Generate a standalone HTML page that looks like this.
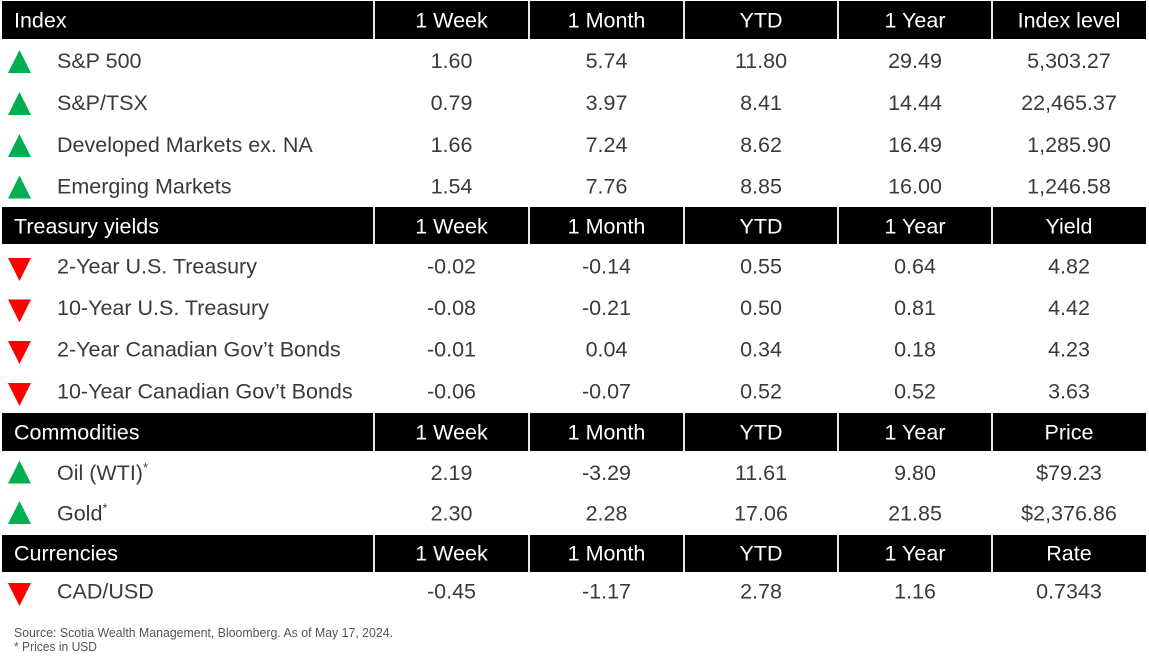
<!DOCTYPE html>
<html>
<head>
<meta charset="utf-8">
<style>
  html,body{margin:0;padding:0;background:#fff;}
  svg{display:block;}
  .h{font-family:"Liberation Sans",sans-serif;font-size:21.5px;fill:#fff;}
  .d{font-family:"Liberation Sans",sans-serif;font-size:21.5px;fill:#3a3a3a;}
  .c{text-anchor:middle;}
  .f{font-family:"Liberation Sans",sans-serif;font-size:12.5px;fill:#555;}
</style>
</head>
<body>
<svg width="1149" height="663" viewBox="0 0 1149 663" xmlns="http://www.w3.org/2000/svg">
  <!-- Header bands -->
  <g fill="#000">
    <rect x="2" y="1" width="1144" height="38"/>
    <rect x="2" y="207" width="1144" height="37"/>
    <rect x="2" y="413" width="1144" height="38"/>
    <rect x="2" y="535" width="1144" height="37"/>
  </g>
  <!-- Header dividers -->
  <g stroke="#e6e6e6" stroke-width="2">
    <line x1="374" y1="1" x2="374" y2="39"/><line x1="529" y1="1" x2="529" y2="39"/><line x1="684" y1="1" x2="684" y2="39"/><line x1="838" y1="1" x2="838" y2="39"/><line x1="992" y1="1" x2="992" y2="39"/>
    <line x1="374" y1="207" x2="374" y2="244"/><line x1="529" y1="207" x2="529" y2="244"/><line x1="684" y1="207" x2="684" y2="244"/><line x1="838" y1="207" x2="838" y2="244"/><line x1="992" y1="207" x2="992" y2="244"/>
    <line x1="374" y1="413" x2="374" y2="451"/><line x1="529" y1="413" x2="529" y2="451"/><line x1="684" y1="413" x2="684" y2="451"/><line x1="838" y1="413" x2="838" y2="451"/><line x1="992" y1="413" x2="992" y2="451"/>
    <line x1="374" y1="535" x2="374" y2="572"/><line x1="529" y1="535" x2="529" y2="572"/><line x1="684" y1="535" x2="684" y2="572"/><line x1="838" y1="535" x2="838" y2="572"/><line x1="992" y1="535" x2="992" y2="572"/>
  </g>

  <!-- Header text -->
  <text class="h" x="14" y="27.5">Index</text>
  <text class="h c" x="451.5" y="27.5">1 Week</text>
  <text class="h c" x="606.5" y="27.5">1 Month</text>
  <text class="h c" x="761" y="27.5">YTD</text>
  <text class="h c" x="915" y="27.5">1 Year</text>
  <text class="h c" x="1069" y="27.5">Index level</text>

  <text class="h" x="14" y="233.5">Treasury yields</text>
  <text class="h c" x="451.5" y="233.5">1 Week</text>
  <text class="h c" x="606.5" y="233.5">1 Month</text>
  <text class="h c" x="761" y="233.5">YTD</text>
  <text class="h c" x="915" y="233.5">1 Year</text>
  <text class="h c" x="1069" y="233.5">Yield</text>

  <text class="h" x="14" y="439.5">Commodities</text>
  <text class="h c" x="451.5" y="439.5">1 Week</text>
  <text class="h c" x="606.5" y="439.5">1 Month</text>
  <text class="h c" x="761" y="439.5">YTD</text>
  <text class="h c" x="915" y="439.5">1 Year</text>
  <text class="h c" x="1069" y="439.5">Price</text>

  <text class="h" x="14" y="560.5">Currencies</text>
  <text class="h c" x="451.5" y="560.5">1 Week</text>
  <text class="h c" x="606.5" y="560.5">1 Month</text>
  <text class="h c" x="761" y="560.5">YTD</text>
  <text class="h c" x="915" y="560.5">1 Year</text>
  <text class="h c" x="1069" y="560.5">Rate</text>

  <!-- Triangles -->
  <g fill="#00b050">
    <polygon points="8,73 31,73 19.5,50"/>
    <polygon points="8,115 31,115 19.5,92"/>
    <polygon points="8,157 31,157 19.5,134"/>
    <polygon points="8,198.5 31,198.5 19.5,175.5"/>
    <polygon points="8,483.5 31,483.5 19.5,460.5"/>
    <polygon points="8,524 31,524 19.5,501"/>
  </g>
  <g fill="#ff0000">
    <polygon points="8,258 31,258 19.5,281"/>
    <polygon points="8,299.5 31,299.5 19.5,322.5"/>
    <polygon points="8,341 31,341 19.5,364"/>
    <polygon points="8,383 31,383 19.5,406"/>
    <polygon points="8,583 31,583 19.5,606"/>
  </g>

  <!-- Index rows -->
  <text class="d" x="57" y="68">S&amp;P 500</text>
  <text class="d c" x="451.5" y="68">1.60</text><text class="d c" x="606.5" y="68">5.74</text><text class="d c" x="761" y="68">11.80</text><text class="d c" x="915" y="68">29.49</text><text class="d c" x="1069" y="68">5,303.27</text>

  <text class="d" x="57" y="110">S&amp;P/TSX</text>
  <text class="d c" x="451.5" y="110">0.79</text><text class="d c" x="606.5" y="110">3.97</text><text class="d c" x="761" y="110">8.41</text><text class="d c" x="915" y="110">14.44</text><text class="d c" x="1069" y="110">22,465.37</text>

  <text class="d" x="57" y="152">Developed Markets ex. NA</text>
  <text class="d c" x="451.5" y="152">1.66</text><text class="d c" x="606.5" y="152">7.24</text><text class="d c" x="761" y="152">8.62</text><text class="d c" x="915" y="152">16.49</text><text class="d c" x="1069" y="152">1,285.90</text>

  <text class="d" x="57" y="193.5">Emerging Markets</text>
  <text class="d c" x="451.5" y="193.5">1.54</text><text class="d c" x="606.5" y="193.5">7.76</text><text class="d c" x="761" y="193.5">8.85</text><text class="d c" x="915" y="193.5">16.00</text><text class="d c" x="1069" y="193.5">1,246.58</text>

  <!-- Treasury rows -->
  <text class="d" x="57" y="273.5">2-Year U.S. Treasury</text>
  <text class="d c" x="451.5" y="273.5">-0.02</text><text class="d c" x="606.5" y="273.5">-0.14</text><text class="d c" x="761" y="273.5">0.55</text><text class="d c" x="915" y="273.5">0.64</text><text class="d c" x="1069" y="273.5">4.82</text>

  <text class="d" x="57" y="315">10-Year U.S. Treasury</text>
  <text class="d c" x="451.5" y="315">-0.08</text><text class="d c" x="606.5" y="315">-0.21</text><text class="d c" x="761" y="315">0.50</text><text class="d c" x="915" y="315">0.81</text><text class="d c" x="1069" y="315">4.42</text>

  <text class="d" x="57" y="356.5">2-Year Canadian Gov’t Bonds</text>
  <text class="d c" x="451.5" y="356.5">-0.01</text><text class="d c" x="606.5" y="356.5">0.04</text><text class="d c" x="761" y="356.5">0.34</text><text class="d c" x="915" y="356.5">0.18</text><text class="d c" x="1069" y="356.5">4.23</text>

  <text class="d" x="57" y="398.5">10-Year Canadian Gov’t Bonds</text>
  <text class="d c" x="451.5" y="398.5">-0.06</text><text class="d c" x="606.5" y="398.5">-0.07</text><text class="d c" x="761" y="398.5">0.52</text><text class="d c" x="915" y="398.5">0.52</text><text class="d c" x="1069" y="398.5">3.63</text>

  <!-- Commodities rows -->
  <text class="d" x="57" y="480">Oil (WTI)<tspan font-size="13" dy="-8">*</tspan></text>
  <text class="d c" x="451.5" y="480">2.19</text><text class="d c" x="606.5" y="480">-3.29</text><text class="d c" x="761" y="480">11.61</text><text class="d c" x="915" y="480">9.80</text><text class="d c" x="1069" y="480">$79.23</text>

  <text class="d" x="57" y="520.5">Gold<tspan font-size="13" dy="-8">*</tspan></text>
  <text class="d c" x="451.5" y="520.5">2.30</text><text class="d c" x="606.5" y="520.5">2.28</text><text class="d c" x="761" y="520.5">17.06</text><text class="d c" x="915" y="520.5">21.85</text><text class="d c" x="1069" y="520.5">$2,376.86</text>

  <!-- Currencies row -->
  <text class="d" x="57" y="598.5">CAD/USD</text>
  <text class="d c" x="451.5" y="598.5">-0.45</text><text class="d c" x="606.5" y="598.5">-1.17</text><text class="d c" x="761" y="598.5">2.78</text><text class="d c" x="915" y="598.5">1.16</text><text class="d c" x="1069" y="598.5">0.7343</text>

  <!-- Footnotes -->
  <text class="f" x="14" y="637" textLength="379" lengthAdjust="spacingAndGlyphs">Source: Scotia Wealth Management, Bloomberg. As of May 17, 2024.</text>
  <text class="f" x="14" y="651" textLength="83" lengthAdjust="spacingAndGlyphs">* Prices in USD</text>
</svg>
</body>
</html>
